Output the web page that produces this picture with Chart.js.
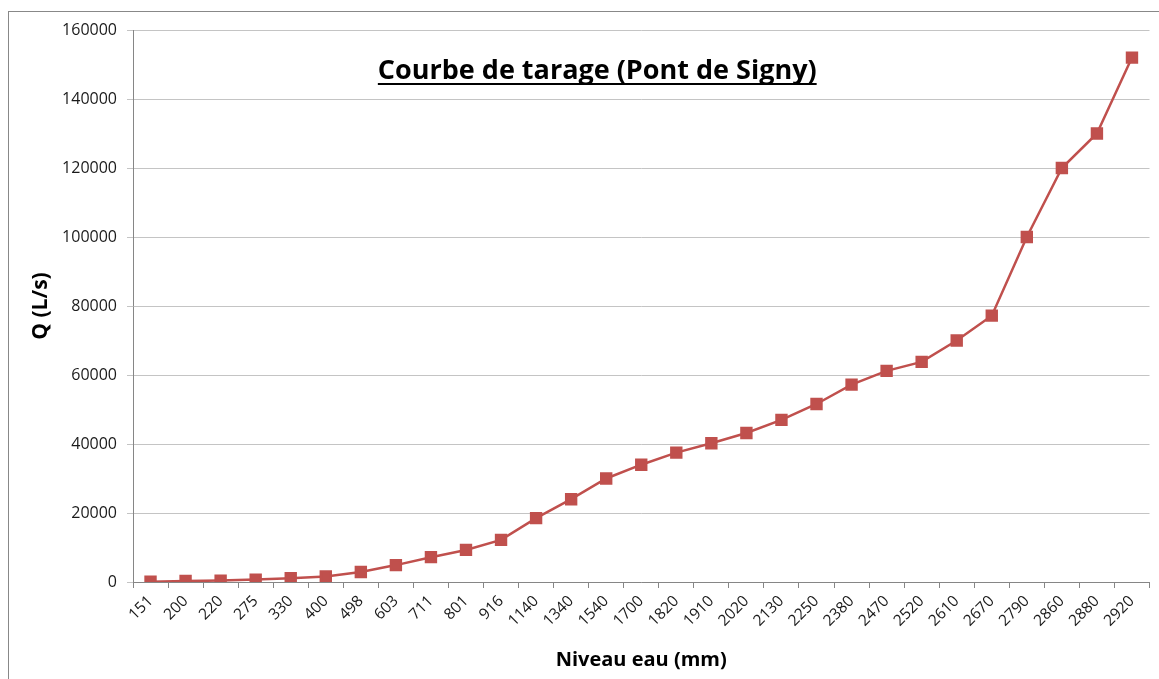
<!DOCTYPE html>
<html>
<head>
<meta charset="utf-8">
<script src="https://cdn.jsdelivr.net/npm/chart.js@4/dist/chart.umd.min.js"></script>
<style>
  html, body { margin: 0; padding: 0; background: #fff; }
  #wrap { width: 1159px; height: 679px; position: relative; }
</style>
</head>
<body>
<div id="wrap"><canvas id="courbe" width="1159" height="679"></canvas></div>
<script>
// niveau d'eau (mm) et débit
const niveaux = ["151", "200", "220", "275", "330", "400", "498", "603", "711", "801", "916", "1140", "1340", "1540", "1700", "1820", "1910", "2020", "2130", "2250", "2380", "2470", "2520", "2610", "2670", "2790", "2860", "2880", "2920"];
const debits = [100, 300, 400, 700, 1100, 1600, 2900, 4900, 7200, 9300, 12200, 18500, 24000, 30000, 34000, 37500, 40200, 43200, 47000, 51600, 57200, 61200, 63800, 70000, 77200, 100000, 120000, 130000, 152000];
const yTicks = [0, 20000, 40000, 60000, 80000, 100000, 120000, 140000, 160000];

const titre = "Courbe de tarage (Pont de Signy)";
const fontFam = "'Open Sans', 'Noto Sans', sans-serif";

// cadre + titre souligné dans la zone de tracé
const decor = {
  id: 'decor',
  afterDraw(chart) {
    const ctx = chart.ctx;
    const area = chart.chartArea;
    ctx.save();
    ctx.strokeStyle = '#888888';
    ctx.lineWidth = 1;
    ctx.strokeRect(8.5, 11.5, 1160, 700);

    ctx.font = "bold 27px " + fontFam;
    ctx.fillStyle = '#000';
    ctx.textAlign = 'center';
    ctx.textBaseline = 'alphabetic';
    const cx = (area.left + area.right) / 2 - 44;
    ctx.fillText(titre, cx, 79);
    const w = ctx.measureText(titre).width;
    ctx.fillRect(cx - w / 2, 83, w, 2);
    ctx.restore();
  }
};

new Chart(document.getElementById('courbe'), {
  type: 'line',
  data: {
    labels: niveaux,
    datasets: [{
      data: debits,
      borderColor: '#C0504D',
      backgroundColor: '#C0504D',
      borderWidth: 2.5,
      pointStyle: 'rect',
      pointRadius: 7,
      pointHoverRadius: 7,
      tension: 0
    }]
  },
  options: {
    responsive: false,
    animation: false,
    layout: { padding: { left: 8, top: 30, right: 8, bottom: 0 } },
    plugins: {
      legend: { display: false },
      tooltip: { enabled: false }
    },
    scales: {
      x: {
        offset: true,
        afterFit(scale) { scale.height = 97; },
        grid: { display: true, drawOnChartArea: false, offset: true, tickLength: 6, color: '#868686' },
        border: { color: '#868686' },
        ticks: {
          autoSkip: false,
          maxRotation: 45,
          minRotation: 45,
          padding: 4,
          color: '#1a1a1a',
          font: { family: fontFam, size: 15.5 }
        },
        title: {
          display: true,
          text: 'Niveau eau (mm)',
          color: '#000',
          font: { family: fontFam, size: 20, weight: 'bold' },
          padding: { top: 0, bottom: 7 }
        }
      },
      y: {
        min: 0,
        max: 160000,
        afterFit(scale) { scale.width = 125; },
        afterBuildTicks(scale) { scale.ticks = yTicks.map(v => ({ value: v })); },
        grid: { color: '#c4c4c4', tickLength: 6 },
        border: { color: '#868686' },
        ticks: {
          color: '#1a1a1a',
          padding: 10,
          font: { family: fontFam, size: 16 },
          callback: v => String(v)
        },
        title: {
          display: true,
          text: 'Q (L/s)',
          color: '#000',
          font: { family: fontFam, size: 21, weight: 'bold' },
          padding: { top: 20, bottom: 0 }
        }
      }
    }
  },
  plugins: [decor]
});
</script>
</body>
</html>
